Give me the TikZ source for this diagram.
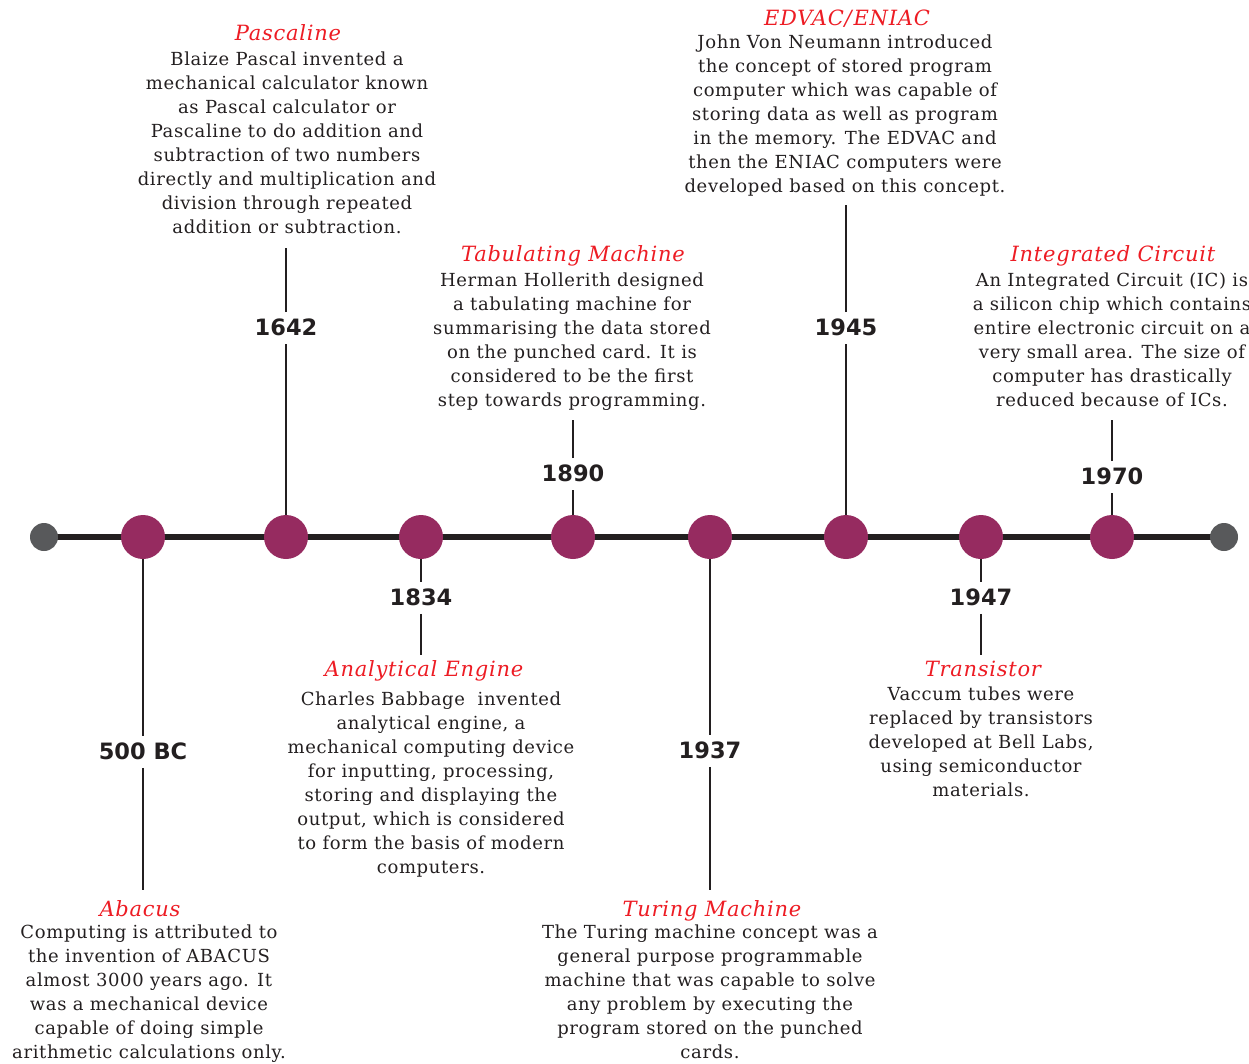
\documentclass[tikz,border=0pt]{standalone}
\usepackage{fontspec}
\setmainfont{DejaVu Serif}[LetterSpace=3.5]
\newfontfamily\yearfont{DejaVu Sans}
\usetikzlibrary{backgrounds}
\definecolor{ink}{HTML}{231F20}
\definecolor{plum}{RGB}{150,43,96}
\definecolor{dotgray}{HTML}{58595B}
\definecolor{titlered}{HTML}{ED1C24}
\begin{document}
\begin{tikzpicture}[x=1pt,y=-1pt,
  event/.style={circle,fill=plum,minimum size=44pt,inner sep=0pt},
  enddot/.style={circle,fill=dotgray,minimum size=28pt,inner sep=0pt},
  year/.style={font=\yearfont\bfseries\fontsize{22.5}{24}\selectfont,text=ink,inner xsep=2pt,inner ysep=8pt,text height=15.5pt,text depth=0pt},
  title/.style={font=\itshape\fontsize{21}{24}\selectfont,text=titlered,inner sep=0pt,anchor=base},
  body/.style={font=\fontsize{18}{24}\selectfont,text=ink,align=center,anchor=north,inner sep=0pt},
  stem/.style={draw=ink,line width=2.5pt},
  axis/.style={draw=ink,line width=5.5pt}]
\useasboundingbox (0,0) rectangle (1249,1063);

% axis ends and events
\node[enddot] (e1) at (44,537) {};
\node[enddot] (e2) at (1224,537) {};
\node[event] (c1) at (143,537) {};
\node[event] (c2) at (286,537) {};
\node[event] (c3) at (421,537) {};
\node[event] (c4) at (573,537) {};
\node[event] (c5) at (710,537) {};
\node[event] (c6) at (846,537) {};
\node[event] (c7) at (981,537) {};
\node[event] (c8) at (1112,537) {};

% year labels
\node[year] (y1) at (143,752) {500 BC};
\node[year] (y2) at (286,328) {1642};
\node[year] (y3) at (421,598) {1834};
\node[year] (y4) at (573,474) {1890};
\node[year] (y5) at (710,751) {1937};
\node[year] (y6) at (846,328) {1945};
\node[year] (y7) at (981,598) {1947};
\node[year] (y8) at (1112,477) {1970};

% stem ends
\coordinate (s1) at (143,890);
\coordinate (s2) at (286,248);
\coordinate (s3) at (421,655);
\coordinate (s4) at (573,420);
\coordinate (s5) at (710,890);
\coordinate (s6) at (846,205);
\coordinate (s7) at (981,655);
\coordinate (s8) at (1112,420);

\begin{scope}[on background layer]
  \draw[axis] (e1.center) -- (e2.center);
  \foreach \i in {1,2,...,8} {
    \draw[stem] (c\i) -- (y\i);
    \draw[stem] (y\i) -- (s\i);
  }
\end{scope}

% Pascaline
\node[title] (t2) at (288,40) {Pascaline};
\node[body] (b2) at (287,52) {Blaize Pascal invented a\\mechanical calculator known\\as Pascal calculator or\\Pascaline to do addition and\\subtraction of two numbers\\directly and multiplication and\\division through repeated\\addition or subtraction.};

% EDVAC/ENIAC
\node[title] (t6) at (847,25) {EDVAC/\kern2pt ENIAC};
\node[body] (b6) at (845,35) {John Von Neumann introduced\\the concept of stored program\\computer which was capable of\\storing data as well as program\\in the memory. The EDVAC and\\then the ENIAC computers were\\developed based on this concept.};

% Tabulating Machine
\node[title] (t4) at (573,261) {Tabulating Machine};
\node[body] (b4) at (572,273) {Herman Hollerith designed\\a tabulating machine for\\summarising the data stored\\on the punched card. It is\\considered to be the first\\step towards programming.};

% Integrated Circuit
\node[title] (t8) at (1113,261) {Integrated Circuit};
\node[body] (b8) at (1112,273) {An Integrated Circuit (IC) is\\a silicon chip which contains\\entire electronic circuit on a\\very small area. The size of\\computer has drastically\\reduced because of ICs.};

% Analytical Engine
\node[title] (t3) at (424,676) {Analytical Engine};
\node[body] (b3) at (431,692) {Charles Babbage\ \ invented\\analytical engine, a\\mechanical computing device\\for inputting, processing,\\storing and displaying the\\output, which is considered\\to form the basis of modern\\computers.};

% Transistor
\node[title] (t7) at (983,676) {Transistor};
\node[body] (b7) at (981,687) {Vaccum tubes were\\replaced by transistors\\developed at Bell Labs,\\using semiconductor\\materials.};

% Abacus
\node[title] (t1) at (140,916) {Abacus};
\node[body] (b1) at (149,925) {Computing is attributed to\\the invention of ABACUS\\almost 3000 years ago. It\\was a mechanical device\\capable of doing simple\\arithmetic calculations only.};

% Turing Machine
\node[title] (t5) at (712,916) {Turing Machine};
\node[body] (b5) at (710,925) {The Turing machine concept was a\\general purpose programmable\\machine that was capable to solve\\any problem by executing the\\program stored on the punched\\cards.};
\end{tikzpicture}
\end{document}
